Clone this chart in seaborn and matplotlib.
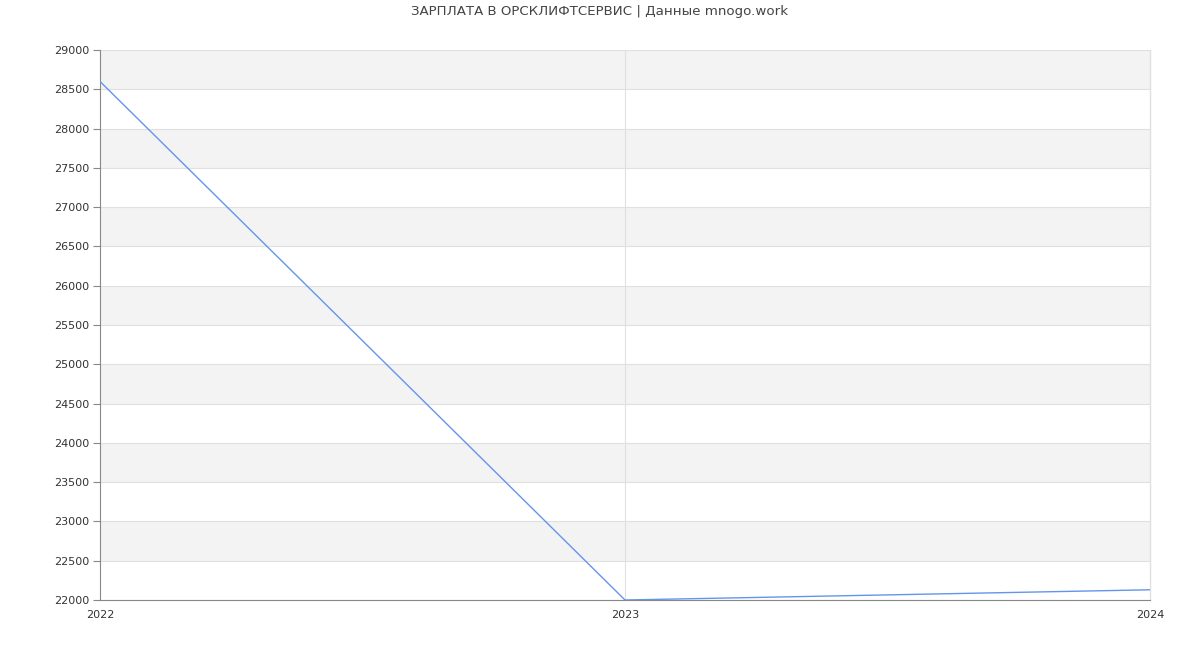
import matplotlib
matplotlib.use("Agg")
import matplotlib.pyplot as plt
import seaborn as sns
import pandas as pd

years = [2022, 2023, 2024]
salary = [28600, 22000, 22130]
y_ticks = list(range(22000, 29001, 500))
title = "ЗАРПЛАТА В ОРСКЛИФТСЕРВИС | Данные mnogo.work"

sns.set_style("white")
plt.rcParams['font.family'] = ['DejaVu Sans']

df = pd.DataFrame({"year": years, "salary": salary})

fig = plt.figure(figsize=(12, 6.5), dpi=100)
ax = fig.add_axes([100/1200, 1 - 600/650, 1050/1200, 550/650])

# alternating bands
for i, lo in enumerate(y_ticks[:-1]):
    hi = lo + 500
    if (i % 2) == 1:
        ax.axhspan(lo, hi, color="#f3f3f3", zorder=0, lw=0)
for t in y_ticks:
    ax.axhline(t, color="#e0e0e0", lw=0.8, zorder=1)
ax.axvline(2023, color="#e0e0e0", lw=0.8, zorder=1)
ax.axvline(2024, color="#e0e0e0", lw=1.0, zorder=1, clip_on=False)

sns.lineplot(data=df, x="year", y="salary", ax=ax, color="#6495ed", lw=1.0, zorder=3)

ax.set_xlim(2022, 2024)
ax.set_ylim(22000, 29000)
ax.set_yticks(y_ticks)
ax.set_yticklabels([str(t) for t in y_ticks], fontsize=8, color="#333333")
ax.set_xticks(years)
ax.set_xticklabels([str(y) for y in years], fontsize=8, color="#333333")
ax.tick_params(axis="y", which="both", left=True, length=5, width=0.8, color="#888888", pad=3)
ax.tick_params(axis="x", which="both", bottom=False, pad=4)
ax.set_xlabel("")
ax.set_ylabel("")

for s in ["top", "right"]:
    ax.spines[s].set_visible(False)
ax.spines["left"].set_color("#888888")
ax.spines["bottom"].set_color("#888888")
ax.spines["left"].set_linewidth(0.8)
ax.spines["bottom"].set_linewidth(0.8)

fig.text(0.5, 1 - 12/650, title, ha="center", va="center", fontsize=9.6, color="#444444")

fig.savefig("out.png", dpi=100)
